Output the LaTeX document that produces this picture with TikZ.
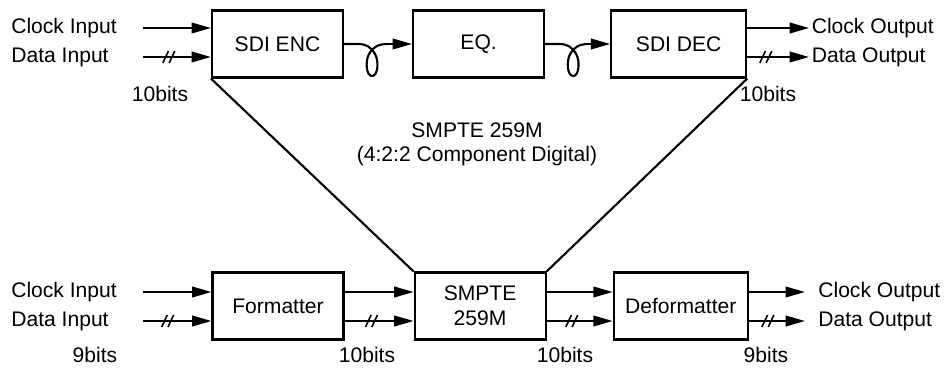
\documentclass[tikz,border=0pt]{standalone}
\usepackage{fontspec}
\setmainfont{Liberation Sans}
\usetikzlibrary{arrows.meta,positioning,decorations.markings}

\tikzset{
  coil/.pic={
    \draw (0,0) -- (0.28,0)
      .. controls (0.44,0) and (0.54,-0.06) .. (0.62,-0.2)
      .. controls (0.70,-0.34) and (0.68,-0.64) .. (0.56,-0.64)
      .. controls (0.44,-0.64) and (0.42,-0.34) .. (0.50,-0.2)
      .. controls (0.58,-0.06) and (0.68,0) .. (0.88,0);
  }
}

\begin{document}
\begin{tikzpicture}[
  line width=1.2pt,
  box/.style={draw, minimum width=2.62cm, minimum height=1.34cm, align=center, font=\fontsize{12}{14}\selectfont},
  lab/.style={inner sep=1pt, font=\fontsize{12}{13.5}\selectfont},
  arr/.style={-{Triangle[length=11pt,width=6pt]}},
  bus/.style={postaction={decorate}, decoration={markings, mark=at position #1 with {\draw[-, line width=0.9pt] (-3.4pt,-3.4pt) -- (-0.2pt,3.4pt) (0.2pt,-3.4pt) -- (3.4pt,3.4pt);}}}
]
\useasboundingbox (0,0) rectangle (19.04,7.36);

% SDI link
\node[box] (enc) at (5.55,6.48) {SDI ENC};
\node[box, right=1.36cm of enc] (eq) {EQ.};
\node[box, right=1.3cm of eq, minimum width=2.7cm] (dec) {SDI DEC};

% parallel path
\node[box] (fmt) at (5.56,1.24) {Formatter};
\node[box, right=1.38cm of fmt] (smpte) {SMPTE\\259M};
\node[box, right=1.32cm of smpte, minimum width=2.68cm] (dfmt) {Deformatter};

% inputs
\node[lab, anchor=west] (ckin1) at (0.17,6.8) {Clock Input};
\node[lab, anchor=west] (dtin1) at (0.17,6.22) {Data Input};
\node[lab, anchor=west] (ckin2) at (0.17,1.52) {Clock Input};
\node[lab, anchor=west] (dtin2) at (0.17,0.94) {Data Input};
\coordinate (ckst1) at (2.86,6.8);
\coordinate (dtst1) at (2.86,6.22);
\coordinate (ckst2) at (2.86,1.52);
\coordinate (dtst2) at (2.86,0.94);
\draw[arr] (ckst1) -- (ckst1 -| enc.west);
\draw[arr, bus=0.38] (dtst1) -- (dtst1 -| enc.west);
\draw[arr] (ckst2) -- (ckst2 -| fmt.west);
\draw[arr, bus=0.36] (dtst2) -- (dtst2 -| fmt.west);

% outputs
\node[lab, anchor=west] (ckout1) at (16.18,6.8) {Clock Output};
\node[lab, anchor=west] (dtout1) at (16.18,6.22) {Data Output};
\node[lab, anchor=west, inner xsep=7pt] (ckout2) at (16.1,1.52) {Clock Output};
\node[lab, anchor=west, inner xsep=7pt] (dtout2) at (16.1,0.94) {Data Output};
\draw[arr] (ckout1 -| dec.east) -- (ckout1.west);
\draw[arr, bus=0.3] (dtout1 -| dec.east) -- (dtout1.west);
\draw[arr] (ckout2 -| dfmt.east) -- (ckout2.west);
\draw[arr, bus=0.34] (dtout2 -| dfmt.east) -- (dtout2.west);

% coax with loops
\path (enc.east) pic {coil} (eq.east) pic {coil};
\draw[arr] ([xshift=0.88cm]enc.east) -- (eq.west);
\draw[arr] ([xshift=0.88cm]eq.east) -- (dec.west);

% between the lower blocks
\draw[arr] ([yshift=0.28cm]fmt.east) -- ([yshift=0.28cm]smpte.west);
\draw[arr, bus=0.39] ([yshift=-0.3cm]fmt.east) -- ([yshift=-0.3cm]smpte.west);
\draw[arr] ([yshift=0.28cm]smpte.east) -- ([yshift=0.28cm]dfmt.west);
\draw[arr, bus=0.38] ([yshift=-0.3cm]smpte.east) -- ([yshift=-0.3cm]dfmt.west);

% funnel
\draw (enc.south west) -- (smpte.north west);
\draw (dec.south east) -- (smpte.north east);
\node[lab, align=center] (std) at (9.54,4.47) {SMPTE 259M\\(4:2:2 Component Digital)};

% word widths
\foreach \i/\p/\t in {1/{3.2,5.48}/10bits, 2/{15.36,5.48}/10bits, 3/{1.9,0.26}/9bits,
                      4/{7.34,0.26}/10bits, 5/{11.3,0.26}/10bits, 6/{15.32,0.26}/9bits}
  \node[lab] (bits\i) at (\p) {\t};
\end{tikzpicture}
\end{document}
